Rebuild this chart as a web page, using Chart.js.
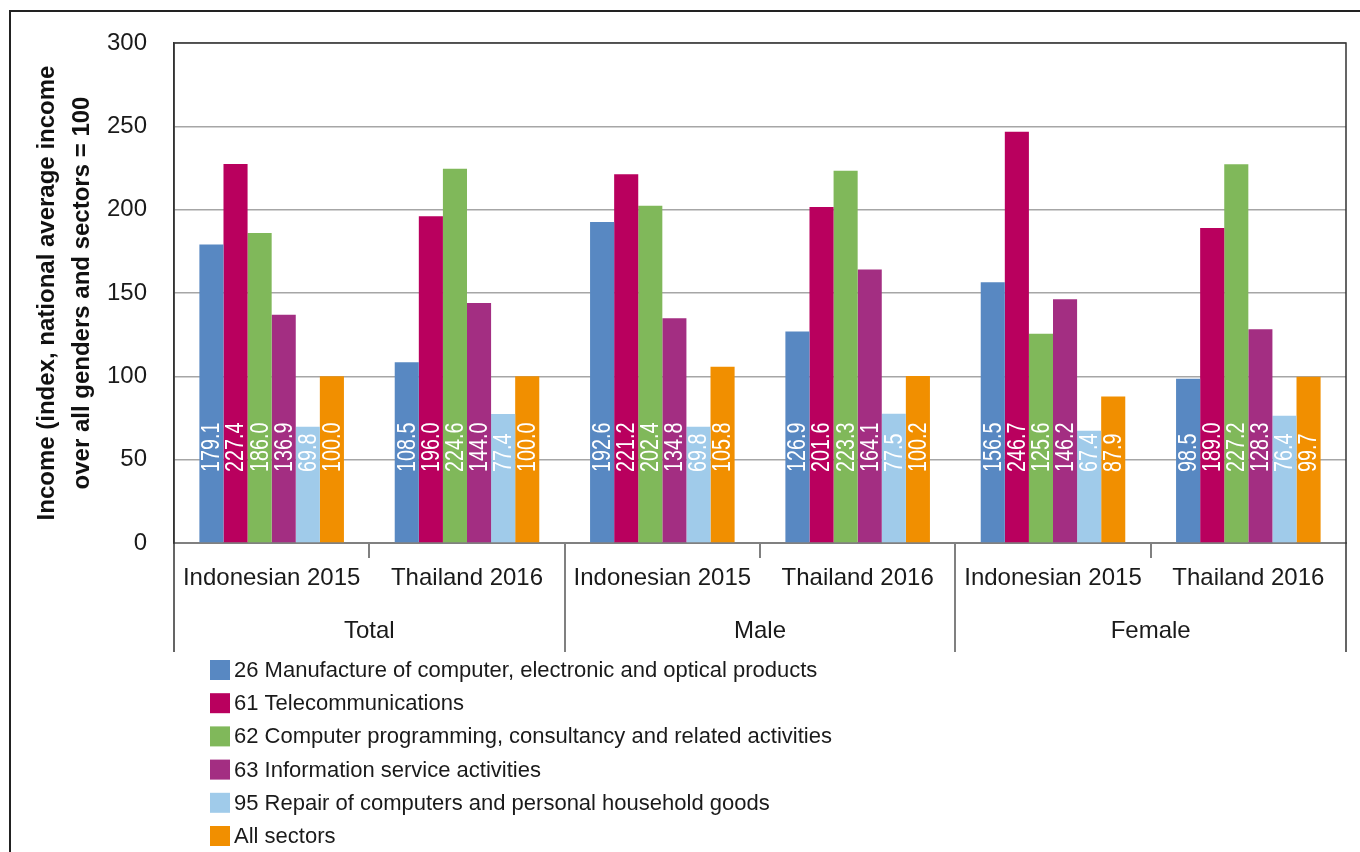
<!DOCTYPE html>
<html>
<head>
<meta charset="utf-8">
<script src="https://cdn.jsdelivr.net/npm/chart.js@4.4.1/dist/chart.umd.min.js"></script>
<style>
  html, body { margin: 0; padding: 0; background: #fff; }
  canvas { display: block; }
</style>
</head>
<body>
<canvas id="chart" width="1360" height="852"></canvas>
<script>
// categorias (país / ano) e grupos (sexo)
const categories = ['Indonesian 2015', 'Thailand 2016', 'Indonesian 2015', 'Thailand 2016', 'Indonesian 2015', 'Thailand 2016'];
const groups = ['Total', 'Male', 'Female'];

// valores por setor
const manufacture = [179.1, 108.5, 192.6, 126.9, 156.5, 98.5];
const telecom = [227.4, 196.0, 221.2, 201.6, 246.7, 189.0];
const programming = [186.0, 224.6, 202.4, 223.3, 125.6, 227.2];
const infoService = [136.9, 144.0, 134.8, 164.1, 146.2, 128.3];
const repair = [69.8, 77.4, 69.8, 77.5, 67.4, 76.4];
const allSectors = [100.0, 100.0, 105.8, 100.2, 87.9, 99.7];

const seriesLabels = [
  '26 Manufacture of computer, electronic and optical products',
  '61 Telecommunications',
  '62 Computer programming, consultancy and related activities',
  '63 Information service activities',
  '95 Repair of computers and personal household goods',
  'All sectors',
];
const seriesColors = ['#5888c2', '#b9005e', '#80b85a', '#a32e82', '#a0cbea', '#f18f00'];

const FONT = '"Liberation Sans", Arial, sans-serif';
const TEXT = '#1a1a1a';

// plugin: moldura, eixos secundários, rótulos de grupo, legenda em lista
const decorPlugin = {
  id: 'decor',
  afterDatasetsDraw(chart) {
    const ctx = chart.ctx;
    const y = chart.scales.y;
    const base = y.getPixelForValue(0);
    ctx.save();
    ctx.fillStyle = '#ffffff';
    ctx.font = '25px ' + FONT;
    ctx.textAlign = 'left';
    ctx.textBaseline = 'middle';
    chart.data.datasets.forEach((ds, i) => {
      const meta = chart.getDatasetMeta(i);
      meta.data.forEach((bar, j) => {
        ctx.save();
        ctx.translate(bar.x + 1, base - 71);
        ctx.rotate(-Math.PI / 2);
        ctx.scale(0.79, 1);
        ctx.fillText(ds.data[j].toFixed(1), 0, 0);
        ctx.restore();
      });
    });
    ctx.restore();
  },
  afterDraw(chart) {
    const ctx = chart.ctx;
    const area = chart.chartArea;
    const x = chart.scales.x;
    const catW = x.getPixelForValue(1) - x.getPixelForValue(0);
    ctx.save();

    // moldura externa
    ctx.strokeStyle = '#222';
    ctx.lineWidth = 2;
    ctx.beginPath();
    ctx.moveTo(10, 852);
    ctx.lineTo(10, 11);
    ctx.lineTo(1360, 11);
    ctx.stroke();

    // separadores das categorias
    ctx.strokeStyle = '#808080';
    ctx.lineWidth = 2;
    for (let i = 1; i < categories.length; i++) {
      const px = Math.round(x.getPixelForValue(i) - catW / 2);
      const long = i % 2 === 0;
      ctx.beginPath();
      ctx.moveTo(px, area.bottom);
      ctx.lineTo(px, long ? 652 : 558);
      ctx.stroke();
    }

    // bordas do gráfico
    ctx.strokeStyle = '#333';
    ctx.lineWidth = 1.5;
    ctx.beginPath();
    ctx.moveTo(area.left, 652);
    ctx.lineTo(area.left, area.top);
    ctx.lineTo(area.right, area.top);
    ctx.lineTo(area.right, 652);
    ctx.stroke();

    // rótulos de grupo
    ctx.fillStyle = TEXT;
    ctx.font = '24px ' + FONT;
    ctx.textAlign = 'center';
    ctx.textBaseline = 'middle';
    groups.forEach((g, k) => {
      const cx = (x.getPixelForValue(2 * k) + x.getPixelForValue(2 * k + 1)) / 2;
      ctx.fillText(g, cx, 631);
    });

    // legenda
    ctx.font = '22px ' + FONT;
    ctx.textAlign = 'left';
    chart.data.datasets.forEach((ds, i) => {
      const cy = 670 + i * 33.2;
      ctx.fillStyle = ds.backgroundColor;
      ctx.fillRect(210, cy - 10, 20, 20);
      ctx.fillStyle = TEXT;
      ctx.fillText(ds.label, 234, cy + 1);
    });
    ctx.restore();
  },
};

const seriesData = [manufacture, telecom, programming, infoService, repair, allSectors];

new Chart(document.getElementById('chart').getContext('2d'), {
  type: 'bar',
  data: {
    labels: categories,
    datasets: seriesData.map((values, i) => ({
      label: seriesLabels[i],
      data: values,
      backgroundColor: seriesColors[i],
      categoryPercentage: 0.74,
      barPercentage: 1.0,
    })),
  },
  options: {
    responsive: false,
    animation: false,
    devicePixelRatio: 1,
    layout: { padding: { top: 43, right: 14, bottom: 0, left: 10 } },
    plugins: {
      legend: { display: false },
      tooltip: { enabled: false },
    },
    scales: {
      x: {
        grid: { display: false, drawTicks: false },
        border: { color: '#808080', width: 2 },
        ticks: { color: TEXT, font: { family: FONT, size: 24 }, padding: 21, maxRotation: 0 },
        afterFit: (scale) => { scale.height = 309; },
      },
      y: {
        min: 0,
        max: 300,
        ticks: { stepSize: 50, color: TEXT, font: { family: FONT, size: 24 }, padding: 27 },
        grid: { color: '#a6a6a6', lineWidth: 1.5, drawTicks: false },
        border: { color: '#333', width: 1.5 },
        title: {
          display: true,
          text: ['Income (index, national average income', 'over all genders and sectors = 100'],
          color: '#111',
          font: { family: FONT, size: 24, weight: 'bold', lineHeight: 1.45 },
          padding: { top: 20, bottom: 0 },
        },
        afterFit: (scale) => { scale.width = 164; },
      },
    },
  },
  plugins: [decorPlugin],
});
</script>
</body>
</html>
